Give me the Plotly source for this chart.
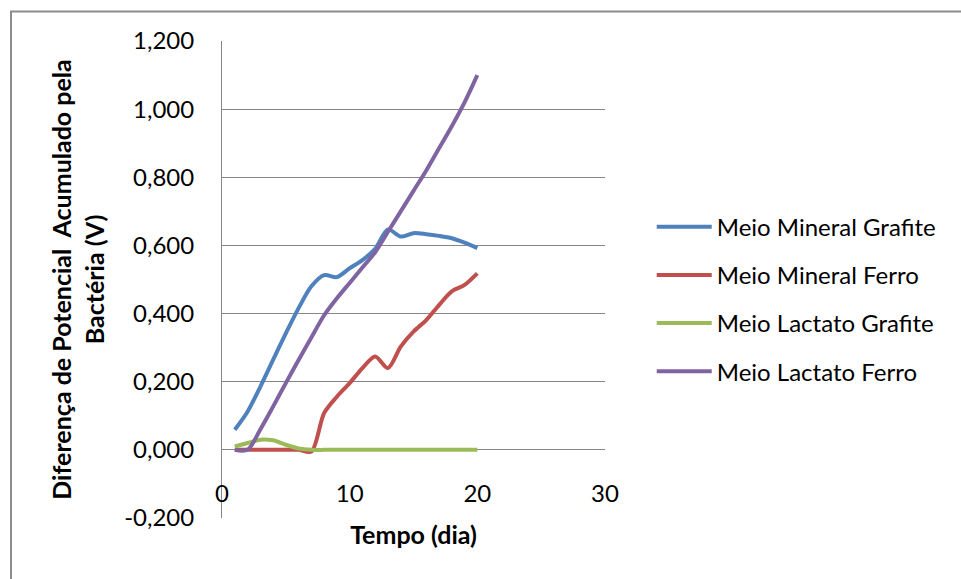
import plotly.graph_objects as go

dias = list(range(1, 21))
mineral_grafite = [0.059, 0.112, 0.185, 0.264, 0.342, 0.416, 0.480, 0.513, 0.507, 0.533,
                   0.557, 0.590, 0.647, 0.626, 0.636, 0.633, 0.628, 0.621, 0.608, 0.592]
mineral_ferro = [0.0, 0.0, 0.0, 0.0, 0.0, 0.0, -0.005, 0.108, 0.156, 0.196,
                 0.240, 0.274, 0.240, 0.303, 0.347, 0.381, 0.425, 0.465, 0.484, 0.518]
lactato_grafite = [0.010, 0.020, 0.030, 0.028, 0.015, 0.004, 0.0, 0.0, 0.0, 0.0,
                   0.0, 0.0, 0.0, 0.0, 0.0, 0.0, 0.0, 0.0, 0.0, 0.0]
lactato_ferro = [0.0, 0.0, 0.060, 0.127, 0.196, 0.264, 0.330, 0.395, 0.445, 0.490,
                 0.535, 0.580, 0.640, 0.700, 0.760, 0.820, 0.885, 0.950, 1.020, 1.100]

series_names = ["Meio Mineral Grafite", "Meio Mineral Ferro", "Meio Lactato Grafite", "Meio Lactato Ferro"]
series_values = [mineral_grafite, mineral_ferro, lactato_grafite, lactato_ferro]
series_colors = ["#4F81BD", "#C0504D", "#9BBB59", "#8064A2"]

y_tickvals = [-0.2, 0.0, 0.2, 0.4, 0.6, 0.8, 1.0, 1.2]
y_ticktext = ["-0,200", "0,000", "0,200", "0,400", "0,600", "0,800", "1,000", "1,200"]
x_tickvals = [0, 10, 20, 30]
x_ticktext = ["0", "10", "20", "30"]

FONT = "Lato"
fig = go.Figure()
for i, (name, vals, col) in enumerate(zip(series_names, series_values, series_colors)):
    fig.add_trace(go.Scatter(
        x=dias, y=vals, name=name, mode="lines", legendgroup=f"g{i}",
        line=dict(color=col, width=4, shape="spline", smoothing=0.8),
    ))

fig.update_layout(
    width=961, height=579,
    margin=dict(l=222, r=356, t=41, b=61),
    paper_bgcolor="white", plot_bgcolor="white",
    font=dict(family=FONT, size=24, color="#000000"),
    showlegend=True,
    legend=dict(x=1.122, xanchor="left", y=0.657, yanchor="top",
                font=dict(family=FONT, size=24, color="#000000"),
                tracegroupgap=14, itemwidth=55, bgcolor="rgba(0,0,0,0)",
                traceorder="grouped"),
    xaxis=dict(range=[0, 30], tickvals=x_tickvals, ticktext=x_ticktext,
               showgrid=False, zeroline=False, showline=False,
               anchor="free", position=0.086, automargin=False,
               tickfont=dict(family=FONT, size=24, color="#000000"),
               title=dict(text="<b>Tempo (dia)</b>", standoff=20,
                          font=dict(family=FONT, size=25, color="#000000"))),
    yaxis=dict(range=[-0.2, 1.2], tickvals=y_tickvals, ticktext=y_ticktext,
               showgrid=True, gridcolor="#868686", gridwidth=1,
               zeroline=False, showline=True, linecolor="#868686", linewidth=1,
               ticks="", ticklabelstandoff=22, automargin=False,
               tickfont=dict(family=FONT, size=24, color="#000000"),
               title=dict(text="<b>Diferença de Potencial  Acumulado pela<br>Bactéria (V)</b>",
                          standoff=12,
                          font=dict(family=FONT, size=25, color="#000000"))),
)

fig.add_shape(type="rect", xref="paper", yref="paper",
              x0=(11 - 222) / 383, x1=2.5, y0=-0.5, y1=(518 - 11.5) / 477,
              line=dict(color="#8C8C8C", width=2), fillcolor="rgba(0,0,0,0)", layer="below")

fig.write_html("out.html", config={"displayModeBar": False},
               post_script="document.body.style.margin='0';")
